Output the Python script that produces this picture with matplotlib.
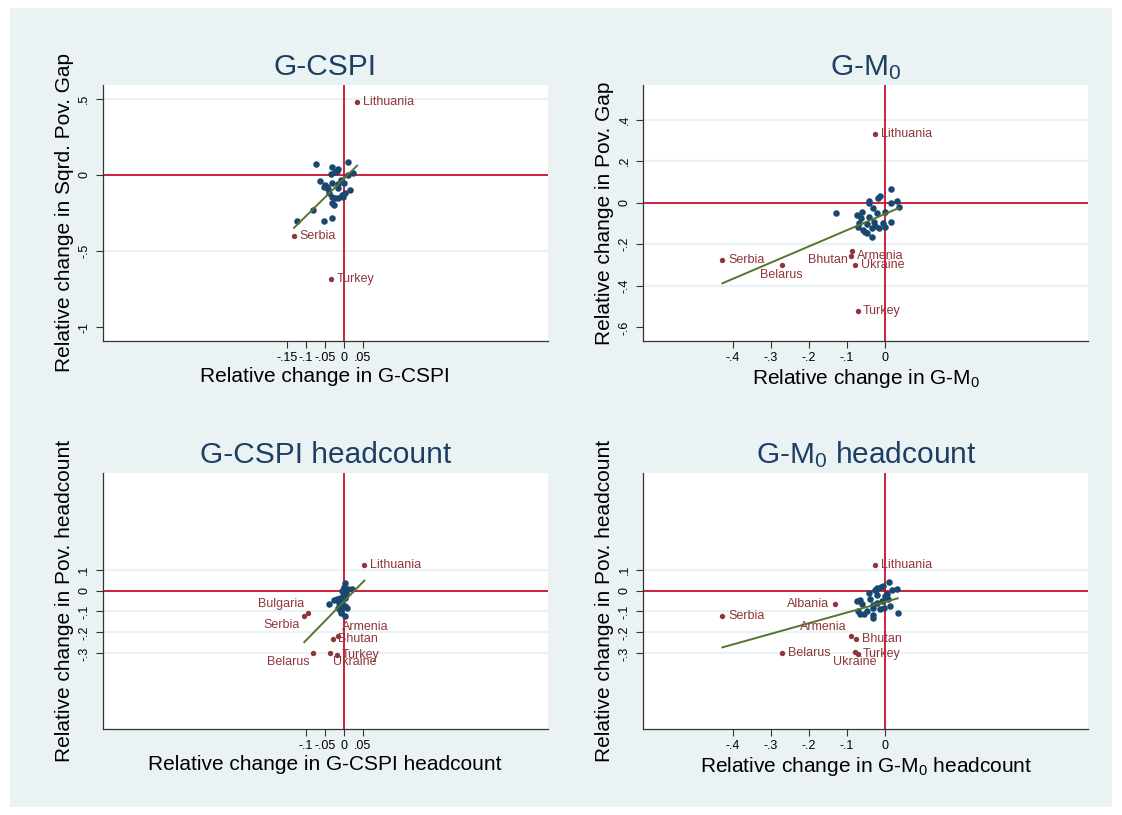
import matplotlib
matplotlib.use("Agg")
import matplotlib.pyplot as plt
from matplotlib.patches import Rectangle
from matplotlib.ticker import FuncFormatter
import numpy as np

plt.rcParams['font.family'] = ['Liberation Sans', 'DejaVu Sans']
plt.rcParams['mathtext.fontset'] = 'custom'
plt.rcParams['mathtext.rm'] = 'Liberation Sans'
plt.rcParams['mathtext.it'] = 'Liberation Sans:italic'

# ── colours (Stata s2color look) ───────────────────────────────────────────
BG     = '#EAF2F3'
NAVY   = '#1A476F'
TITLE  = '#1C3F63'
MAROON = '#90353B'
GREEN  = '#55752F'
RED    = '#C8102E'
AXIS   = '#333333'

# ── data: G-CSPI vs squared poverty gap ────────────────────────────────────
cspi_blue_x = [-0.073, -0.030, 0.012, -0.014, -0.018, -0.023, -0.034, 0.025, 0.012,
               -0.064, -0.049, -0.045, -0.051, -0.042, -0.030, 0.000, 0.017, -0.014,
               -0.038, -0.032, -0.023, -0.014, -0.005, 0.002, -0.001, -0.032, -0.026,
               -0.080, -0.124, -0.051, -0.030, -0.014, -0.007]
cspi_blue_y = [0.070, 0.054, 0.087, 0.039, 0.028, 0.018, 0.005, 0.011, 0.000,
               -0.037, -0.066, -0.077, -0.081, -0.094, -0.050, -0.055, -0.098, -0.087,
               -0.120, -0.142, -0.153, -0.153, -0.131, -0.120, -0.142, -0.186, -0.197,
               -0.230, -0.300, -0.300, -0.284, -0.059, -0.033]
cspi_red_names = ['Lithuania', 'Serbia', 'Turkey']
cspi_red_x = [0.035, -0.131, -0.034]
cspi_red_y = [0.480, -0.402, -0.684]
cspi_fit = (-0.025, 2.456)   # intercept, slope

# ── data: G-M0 vs poverty gap ──────────────────────────────────────────────
m0_blue_x = [-0.127, -0.042, -0.040, -0.018, -0.012, 0.017, 0.017, -0.029, -0.060,
             -0.073, -0.020, 0.002, -0.042, -0.062, -0.066, -0.069, -0.045, -0.027,
             -0.025, -0.056, -0.051, -0.047, -0.034, -0.014, -0.003, 0.017, -0.032,
             0.033, 0.037, 0.000]
m0_blue_y = [-0.048, 0.010, -0.003, 0.021, 0.032, 0.066, 0.000, -0.024, -0.043,
             -0.059, -0.051, -0.043, -0.070, -0.075, -0.096, -0.115, -0.102, -0.094,
             -0.112, -0.131, -0.142, -0.147, -0.123, -0.120, -0.099, -0.091, -0.166,
             0.010, -0.021, -0.115]
m0_red_names = ['Lithuania', 'Serbia', 'Belarus', 'Bhutan', 'Armenia', 'Ukraine', 'Turkey']
m0_red_x = [-0.024, -0.427, -0.271, -0.085, -0.088, -0.077, -0.071]
m0_red_y = [0.330, -0.277, -0.301, -0.231, -0.256, -0.301, -0.521]
m0_fit = (-0.055, 0.779)

# ── data: G-CSPI headcount vs poverty headcount ────────────────────────────
cspih_blue_x = [0.002, 0.001, -0.001, -0.005, 0.021, 0.012, 0.005, -0.001, 0.003,
                -0.010, -0.018, -0.027, -0.038, -0.012, -0.005, 0.003, 0.008, -0.010,
                -0.007, 0.002, -0.014, -0.004, -0.005]
cspih_blue_y = [0.038, 0.019, 0.003, 0.000, 0.007, 0.007, -0.013, -0.025, -0.036,
                -0.036, -0.041, -0.044, -0.064, -0.060, -0.068, -0.076, -0.084, -0.092,
                -0.108, -0.121, -0.084, -0.052, -0.079]
cspih_red_names = ['Lithuania', 'Bulgaria', 'Serbia', 'Armenia', 'Bhutan',
                   'Belarus', 'Ukraine', 'Turkey']
cspih_red_x = [0.054, -0.093, -0.104, -0.016, -0.029, -0.080, -0.037, -0.019]
cspih_red_y = [0.121, -0.105, -0.122, -0.215, -0.232, -0.299, -0.299, -0.308]
cspih_fit = (-0.053, 1.856)

# ── data: G-M0 headcount vs poverty headcount ──────────────────────────────
m0h_blue_x = [-0.009, -0.019, -0.025, 0.019, -0.042, -0.020, 0.000, 0.006, -0.064,
              -0.072, -0.038, -0.020, -0.007, 0.010, 0.015, -0.001, -0.013, -0.029,
              -0.031, -0.047, -0.054, -0.064, -0.069, -0.029, -0.029, -0.058, 0.012,
              0.033, 0.035, -0.005, -0.023]
m0h_blue_y = [0.019, 0.011, 0.003, 0.003, -0.013, -0.021, -0.024, -0.017, -0.044,
              -0.052, -0.040, -0.060, -0.052, -0.040, -0.076, -0.084, -0.087, -0.084,
              -0.068, -0.100, -0.113, -0.113, -0.100, -0.119, -0.129, -0.065, 0.040,
              0.007, -0.105, 0.022, 0.002]
m0h_red_names = ['Lithuania', 'Albania', 'Serbia', 'Armenia', 'Bhutan',
                 'Belarus', 'Ukraine', 'Turkey']
m0h_red_x = [-0.025, -0.130, -0.427, -0.088, -0.075, -0.270, -0.078, -0.071]
m0h_red_y = [0.121, -0.065, -0.121, -0.215, -0.232, -0.296, -0.294, -0.304]
m0h_fit = (-0.055, 0.506)

# ticks
cspi_xticks = [-0.15, -0.1, -0.05, 0, 0.05]
cspih_xticks = [-0.1, -0.05, 0, 0.05]
m0_xticks = [-0.4, -0.3, -0.2, -0.1, 0]
cspi_yticks = [-1, -0.5, 0, 0.5]
m0_yticks = [-0.6, -0.4, -0.2, 0, 0.2, 0.4]
head_yticks = [-0.3, -0.2, -0.1, 0, 0.1]

# marker-label positions (clock positions) per panel
label_pos = {
    'cspi':  {},
    'm0':    {'Belarus': 6, 'Bhutan': 7},
    'cspih': {'Bulgaria': 11, 'Serbia': 7, 'Armenia': 1, 'Belarus': 7, 'Ukraine': 5},
    'm0h':   {'Albania': 9, 'Armenia': 11, 'Ukraine': 6},
}

CLOCK = {
    3:  ((4, 0), 'left', 'center'),
    9:  ((-4, 0), 'right', 'center'),
    6:  ((0, -3), 'center', 'top'),
    1:  ((3, 2), 'left', 'bottom'),
    5:  ((2, -2), 'left', 'top'),
    7:  ((-3, -2), 'right', 'top'),
    11: ((-3, 2), 'right', 'bottom'),
}


def stata_fmt(v, pos=None):
    if abs(v) < 1e-9:
        return '0'
    s = ('%g' % v)
    return s.replace('0.', '.')


def panel(ax, key, bx, by, names, rx, ry, fit, xticks, yticks, ylim,
          title, xlabel, ylabel):
    ax.set_facecolor('white')
    ax.set_xlim(-0.635, 0.537)
    ax.set_ylim(*ylim)

    for t in yticks:
        if t != 0 and t > ylim[0] + 0.1:
            ax.axhline(t, color=BG, linewidth=1.6, zorder=1)
    ax.axhline(0, color=RED, linewidth=1.3, zorder=2)
    ax.axvline(0, color=RED, linewidth=1.3, zorder=2)

    ax.scatter(bx, by, s=22, color=NAVY, linewidths=0, zorder=3)
    ax.scatter(rx, ry, s=15, color=MAROON, linewidths=0, zorder=3)

    allx = list(bx) + list(rx)
    xs = np.array([min(allx), max(allx)])
    ax.plot(xs, fit[0] + fit[1] * xs, color=GREEN, linewidth=1.4, zorder=4)

    for n, x, y in zip(names, rx, ry):
        off, ha, va = CLOCK[label_pos[key].get(n, 3)]
        ax.annotate(n, (x, y), xytext=off, textcoords='offset points',
                    ha=ha, va=va, fontsize=9, color=MAROON, zorder=5)

    ax.set_xticks(xticks)
    ax.set_yticks(yticks)
    ax.xaxis.set_major_formatter(FuncFormatter(stata_fmt))
    ax.yaxis.set_major_formatter(FuncFormatter(stata_fmt))
    ax.tick_params(axis='both', direction='out', length=5, width=0.8,
                   color=AXIS, labelsize=9, labelcolor='black')
    ax.tick_params(axis='x', pad=3)
    ax.tick_params(axis='y', pad=4)
    for lab in ax.get_yticklabels():
        lab.set_rotation(90)
        lab.set_va('center')

    for side in ('top', 'right'):
        ax.spines[side].set_visible(False)
    for side in ('left', 'bottom'):
        ax.spines[side].set_color(AXIS)
        ax.spines[side].set_linewidth(0.9)

    ax.set_title(title, fontsize=21.5, color=TITLE, pad=7)
    ax.set_xlabel(xlabel, fontsize=15, color='black')
    ax.set_ylabel(ylabel, fontsize=15, color='black')
    ax.xaxis.set_label_coords(0.5, -0.10)
    ax.yaxis.set_label_coords(-0.065, 0.5)


fig = plt.figure(figsize=(11.22, 8.15), dpi=100)
fig.patch.set_facecolor('white')
fig.patches.append(Rectangle((10 / 1122, 1 - 807 / 815), 1102 / 1122, 799 / 815,
                             transform=fig.transFigure, facecolor=BG,
                             edgecolor='none', zorder=-5))

W, H = 1122, 815
pw, ph = 445 / W, 256 / H
ax1 = fig.add_axes([102.7 / W, 1 - 341 / H, pw, ph])
ax2 = fig.add_axes([643.4 / W, 1 - 341 / H, pw, ph])
ax3 = fig.add_axes([102.7 / W, 1 - 729 / H, pw, ph])
ax4 = fig.add_axes([643.4 / W, 1 - 729 / H, pw, ph])

panel(ax1, 'cspi', cspi_blue_x, cspi_blue_y, cspi_red_names, cspi_red_x, cspi_red_y,
      cspi_fit, cspi_xticks, cspi_yticks, (-1.089, 0.59),
      'G-CSPI', 'Relative change in G-CSPI', 'Relative change in Sqrd. Pov. Gap')
panel(ax2, 'm0', m0_blue_x, m0_blue_y, m0_red_names, m0_red_x, m0_red_y,
      m0_fit, m0_xticks, m0_yticks, (-0.665, 0.566),
      r'G-M$_0$', r'Relative change in G-M$_0$', 'Relative change in Pov. Gap')
panel(ax3, 'cspih', cspih_blue_x, cspih_blue_y, cspih_red_names, cspih_red_x, cspih_red_y,
      cspih_fit, cspih_xticks, head_yticks, (-0.660, 0.560),
      'G-CSPI headcount', 'Relative change in G-CSPI headcount',
      'Relative change in Pov. headcount')
panel(ax4, 'm0h', m0h_blue_x, m0h_blue_y, m0h_red_names, m0h_red_x, m0h_red_y,
      m0h_fit, m0_xticks, head_yticks, (-0.660, 0.560),
      r'G-M$_0$ headcount', r'Relative change in G-M$_0$ headcount',
      'Relative change in Pov. headcount')

fig.savefig('out.png', dpi=100, facecolor='white')
